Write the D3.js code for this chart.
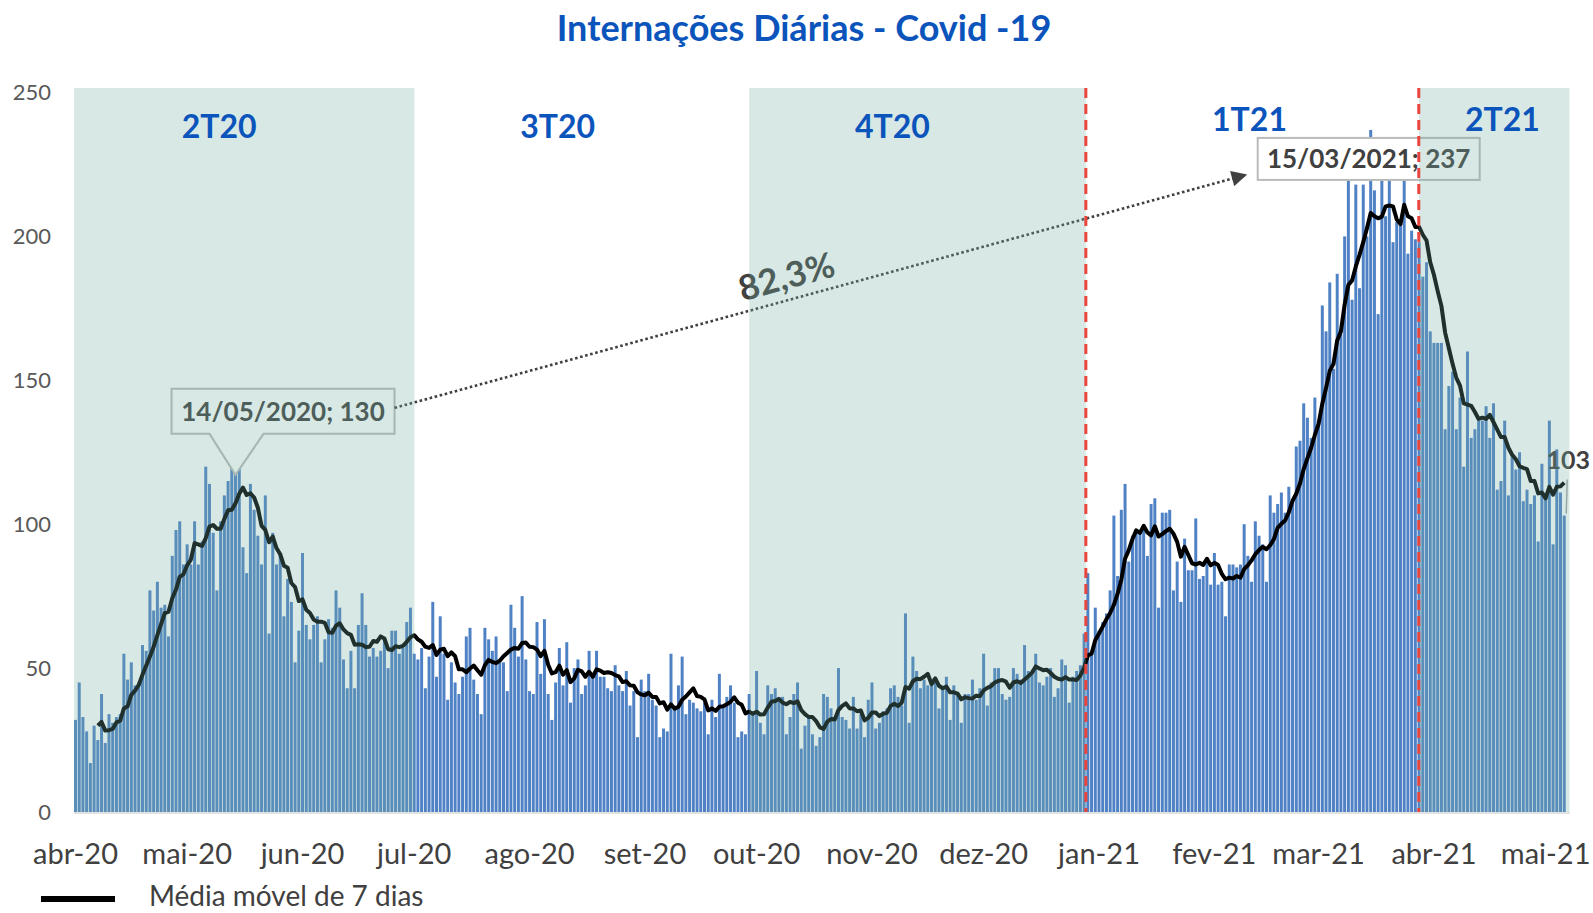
<!DOCTYPE html>
<html>
<head>
<meta charset="utf-8">
<script src="https://cdn.jsdelivr.net/npm/d3@7/dist/d3.min.js"></script>
<style>
  body { margin: 0; background: #fff; }
  svg { display: block; font-family: Lato, "Noto Sans", sans-serif; }
</style>
</head>
<body>
<div id="chart"></div>
<script>
// Internações diárias, um valor por dia a partir de 01/04/2020
const abr20 = [32,45,33,28,17,30,25,41,24,34,31,33,34,55,46,52,44,45,58,56,77,70,80,71,72,61,89,98,101,86];
const mai20 = [93,86,101,86,94,120,114,97,77,101,110,115,121,130,120,92,83,114,105,96,86,110,62,97,86,90,68,81,73,52,63];
const jun20 = [90,65,60,65,68,52,60,67,64,77,71,53,43,56,43,65,76,65,54,57,54,56,60,50,63,63,55,57,66,71];
const jul20 = [55,53,57,43,54,73,47,68,55,39,52,45,41,47,61,64,46,41,34,64,60,56,61,52,52,42,72,64,54,75,53];
const ago20 = [42,41,66,48,67,41,32,45,57,44,59,38,50,53,41,44,56,47,56,47,47,43,42,51,44,42,49,37,42,26,46];
const set20 = [42,48,39,37,26,29,28,55,37,44,54,34,39,38,36,35,38,27,39,33,48,37,40,44,38,26,28,27,41,35];
const out20 = [49,31,27,44,41,43,40,40,27,33,41,45,22,30,33,27,23,26,41,40,36,32,50,33,32,29,40,29,34,26,39];
const nov20 = [45,29,31,35,36,43,44,40,37,69,31,54,49,43,46,44,44,45,36,43,47,32,44,41,31,41,41,46,39,43];
const dez20 = [55,37,45,50,50,41,39,40,50,48,46,58,49,48,55,45,44,47,50,40,43,53,51,38,47,49,51,62,83,55,71];
const jan21 = [63,66,69,77,103,82,105,114,87,96,98,97,99,89,107,109,71,104,104,105,77,87,73,95,84,84,102,81,82,88,79];
const fev21 = [90,79,80,68,86,86,85,86,100,89,80,101,96,93,80,110,104,107,111,104,113,108,127,129,142,137,130,144];
const mar21 = [135,176,167,184,154,187,166,200,224,178,218,182,218,200,237,216,173,222,207,220,198,205,205,220,194,202,199,198,186,191,167];
const abr21 = [163,163,163,133,148,153,133,144,120,160,130,133,136,136,141,130,142,112,115,136,110,124,119,125,108,112,107,110,94,121];
const mai21 = [111,136,93,126,111,103];

const inicio = '2020-04-01';
const internacoes = [].concat(abr20, mai20, jun20, jul20, ago20, set20, out20, nov20, dez20, jan21, fev21, mar21, abr21, mai21);

const meses = ['2020-04-01','2020-05-01','2020-06-01','2020-07-01','2020-08-01','2020-09-01','2020-10-01',
  '2020-11-01','2020-12-01','2021-01-01','2021-02-01','2021-03-01','2021-04-01','2021-05-01'];
const rotulosMeses = ['abr-20','mai-20','jun-20','jul-20','ago-20','set-20','out-20',
  'nov-20','dez-20','jan-21','fev-21','mar-21','abr-21','mai-21'];

// trimestres (faixas como desenhadas no gráfico original)
const trimestres = [
  { nome: '2T20', ini: '2020-04-01T00:00', fim: '2020-07-01T12:00', rotulo: '2020-05-10', faixa: true },
  { nome: '3T20', ini: '2020-07-01T12:00', fim: '2020-09-29T12:00', rotulo: '2020-08-09', faixa: false },
  { nome: '4T20', ini: '2020-09-29T12:00', fim: '2020-12-29T00:00', rotulo: '2020-11-07', faixa: true },
  { nome: '1T21', ini: '2020-12-29T00:00', fim: '2021-03-28T12:00', rotulo: '2021-02-11', faixa: false },
  { nome: '2T21', ini: '2021-03-28T12:00', fim: '2021-05-08T00:00', rotulo: '2021-04-20', faixa: true }
];
const divisorias = ['2020-12-29T00:00', '2021-03-28T12:00'];

const picos = [
  { data: '2020-05-14', valor: 130 },
  { data: '2021-03-15', valor: 237 }
];
const yTicks = [0, 50, 100, 150, 200, 250];

// ---------------------------------------------------------------
const W = 1593, H = 913;
const parseDia = d3.timeParse('%Y-%m-%d');
const parseHora = d3.timeParse('%Y-%m-%dT%H:%M');
const fmt = d3.timeFormat('%Y-%m-%d');
const n = internacoes.length;
const dias = d3.range(n).map(i => d3.timeDay.offset(parseDia(inicio), i));
const chaves = dias.map(fmt);
const serie = internacoes.map((v, i) => ({ key: chaves[i], date: dias[i], v }));

// 7-day trailing moving average
const media = serie.slice(6).map((d, i) => ({
  key: d.key,
  v: d3.mean(internacoes.slice(i, i + 7))
}));

const left = 74, step = 3.72;
const right = left + step * n;
const yBase = 812, yTop = 92.5, shadeTop = 88;

const x = d3.scaleBand().domain(chaves).range([left, right]).paddingInner(0.2).paddingOuter(0);
const xT = d3.scaleTime().domain([dias[0], d3.timeDay.offset(dias[0], n)]).range([left, right]);
const y = d3.scaleLinear().domain([0, 250]).range([yBase, yTop]);
const cx = k => x(k) + x.bandwidth() / 2;

const svg = d3.select('#chart').append('svg').attr('width', W).attr('height', H);

// Title
svg.append('text')
  .attr('x', 804).attr('y', 41)
  .attr('text-anchor', 'middle')
  .style('font-size', '36px').style('font-weight', 700)
  .style('fill', '#0b54bb')
  .text('Internações Diárias - Covid -19');

// bars
svg.append('g').selectAll('rect')
  .data(serie).enter().append('rect')
  .attr('x', d => x(d.key))
  .attr('width', x.bandwidth())
  .attr('y', d => y(d.v))
  .attr('height', d => yBase - y(d.v))
  .attr('fill', '#4f81c5');

// moving average
svg.append('path')
  .datum(media)
  .attr('fill', 'none')
  .attr('stroke', '#000')
  .attr('stroke-width', 4)
  .attr('stroke-linejoin', 'round')
  .attr('d', d3.line().x(d => cx(d.key)).y(d => y(d.v)));

// x axis line
svg.append('line')
  .attr('x1', left).attr('x2', 1570).attr('y1', yBase + 1).attr('y2', yBase + 1)
  .attr('stroke', '#d9d9d9').attr('stroke-width', 1.5);

// callouts
const p1 = picos[0], p2 = picos[1];
const a1x = cx(p1.data), a1y = y(p1.valor);
const b1 = { l: a1x - 64, r: a1x + 159, t: a1y - 49, b: a1y - 4 };
svg.append('path')
  .attr('d', `M${b1.l},${b1.t}H${b1.r}V${b1.b}H${a1x + 28}L${a1x},${a1y + 37}L${a1x - 26},${b1.b}H${b1.l}Z`)
  .attr('fill', '#fff').attr('stroke', '#b9bcbb').attr('stroke-width', 2);
svg.append('text')
  .attr('x', (b1.l + b1.r) / 2).attr('y', b1.b - 13)
  .attr('text-anchor', 'middle')
  .style('font-size', '26px').style('font-weight', 700).style('fill', '#404040')
  .text(`${d3.timeFormat('%d/%m/%Y')(parseDia(p1.data))}; ${p1.valor}`);

const a2x = cx(p2.data), a2y = y(p2.valor);
const b2 = { l: a2x - 113, r: a2x + 109, t: a2y + 8, b: a2y + 50 };
svg.append('rect')
  .attr('x', b2.l).attr('y', b2.t).attr('width', b2.r - b2.l).attr('height', b2.b - b2.t)
  .attr('fill', '#fff').attr('stroke', '#b9bcbb').attr('stroke-width', 2);
svg.append('text')
  .attr('x', (b2.l + b2.r) / 2).attr('y', b2.b - 12)
  .attr('text-anchor', 'middle')
  .style('font-size', '26px').style('font-weight', 700).style('fill', '#404040')
  .text(`${d3.timeFormat('%d/%m/%Y')(parseDia(p2.data))}; ${p2.valor}`);

// dotted arrow between the two peaks
svg.append('defs').append('marker')
  .attr('id', 'seta').attr('viewBox', '0 0 10 10')
  .attr('refX', 9).attr('refY', 5)
  .attr('markerWidth', 7).attr('markerHeight', 6)
  .attr('markerUnits', 'strokeWidth')
  .attr('orient', 'auto')
  .append('path').attr('d', 'M0,0L10,5L0,10Z').attr('fill', '#404040');

const s0 = [b1.r, b1.t + 19], s1 = [b2.l - 12, b2.b - 5];
svg.append('line')
  .attr('x1', s0[0]).attr('y1', s0[1]).attr('x2', s1[0]).attr('y2', s1[1])
  .attr('stroke', '#404040').attr('stroke-width', 2.6)
  .attr('stroke-dasharray', '2.6 2.6')
  .attr('marker-end', 'url(#seta)');

const ang = Math.atan2(s1[1] - s0[1], s1[0] - s0[0]) * 180 / Math.PI;
const variacao = (p2.valor / p1.valor - 1) * 100;
svg.append('text')
  .attr('transform', `translate(786,275) rotate(${ang})`)
  .attr('text-anchor', 'middle').attr('dominant-baseline', 'central')
  .style('font-size', '35px').style('font-weight', 700).style('fill', '#404040')
  .text(d3.format('.1f')(variacao).replace('.', ',') + '%');

// last value label
const ult = serie[n - 1];
const ux = cx(ult.key), uy = y(ult.v);
svg.append('line')
  .attr('x1', ux + 2).attr('x2', ux + 3).attr('y1', uy - 2).attr('y2', uy - 36)
  .attr('stroke', '#a6a6a6').attr('stroke-width', 1.5);
svg.append('text')
  .attr('x', ux + 4).attr('y', uy - 47)
  .attr('text-anchor', 'middle')
  .style('font-size', '25px').style('font-weight', 700).style('fill', '#404040')
  .text(ult.v);

// quarter shading (semi-transparent, on top of the marks)
svg.append('g').selectAll('rect')
  .data(trimestres.filter(d => d.faixa)).enter().append('rect')
  .attr('x', d => xT(parseHora(d.ini)))
  .attr('width', d => xT(parseHora(d.fim)) - xT(parseHora(d.ini)))
  .attr('y', shadeTop).attr('height', yBase - shadeTop)
  .attr('fill', 'rgb(114,172,157)').attr('fill-opacity', 0.28);

// red dashed dividers
svg.append('g').selectAll('line')
  .data(divisorias).enter().append('line')
  .attr('x1', d => xT(parseHora(d))).attr('x2', d => xT(parseHora(d)))
  .attr('y1', shadeTop).attr('y2', yBase)
  .attr('stroke', '#e8453c').attr('stroke-width', 3)
  .attr('stroke-dasharray', '10 6');

// quarter labels
svg.append('g').selectAll('text')
  .data(trimestres).enter().append('text')
  .attr('x', d => xT(parseDia(d.rotulo)))
  .attr('y', d => d.nome.endsWith('21') ? 131 : 138)
  .attr('text-anchor', 'middle')
  .style('font-size', '32px').style('font-weight', 700).style('fill', '#0b54bb')
  .text(d => d.nome);

// axes
const gy = svg.append('g')
  .attr('transform', `translate(51,0)`)
  .call(d3.axisLeft(y).tickValues(yTicks).tickSize(0).tickPadding(0));
gy.select('.domain').remove();
gy.selectAll('text').style('font-size', '22px').style('fill', '#595959').style('font-family', 'Lato, sans-serif');

const rot = new Map(meses.map((m, i) => [m, rotulosMeses[i]]));
const gx = svg.append('g')
  .attr('transform', `translate(0,${yBase})`)
  .call(d3.axisBottom(x).tickValues(meses).tickFormat(d => rot.get(d)).tickSize(0).tickPadding(31));
gx.select('.domain').remove();
gx.selectAll('text').style('font-size', '29px').style('fill', '#404040').style('font-family', 'Lato, sans-serif');

// legend
svg.append('line')
  .attr('x1', 41).attr('x2', 115).attr('y1', 899).attr('y2', 899)
  .attr('stroke', '#000').attr('stroke-width', 6);
svg.append('text')
  .attr('x', 149).attr('y', 906)
  .style('font-size', '28px').style('fill', '#404040')
  .text('Média móvel de 7 dias');
</script>
</body>
</html>
